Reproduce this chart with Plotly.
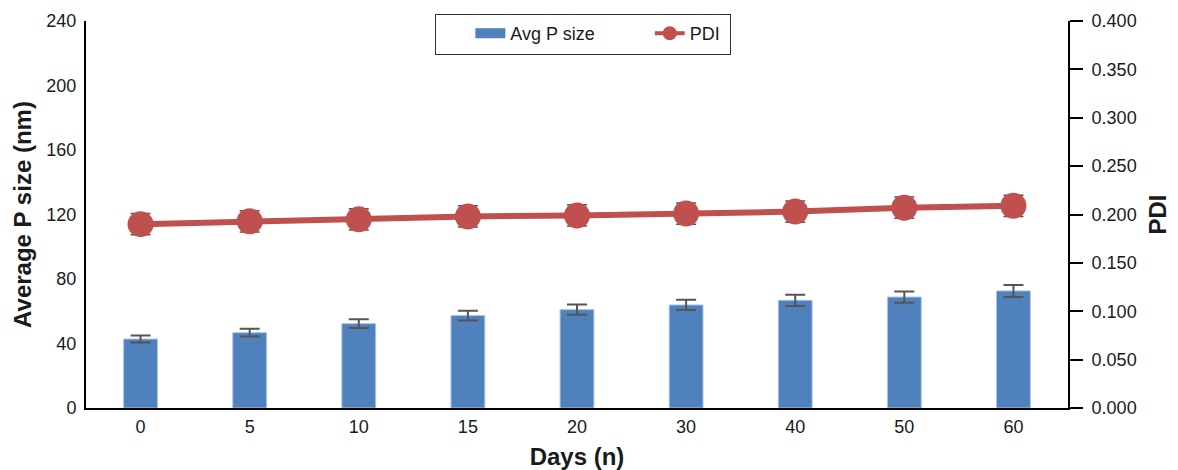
import plotly.graph_objects as go

days = ["0", "5", "10", "15", "20", "30", "40", "50", "60"]
avg_size = [42.8, 46.7, 52.3, 57.3, 61.0, 63.9, 66.8, 68.8, 72.6]
avg_size_err = [2.2, 2.4, 2.7, 3.0, 3.2, 3.2, 3.5, 3.5, 3.7]
pdi = [0.190, 0.193, 0.195, 0.198, 0.199, 0.201, 0.203, 0.207, 0.209]
pdi_err = [0.011, 0.011, 0.011, 0.011, 0.011, 0.011, 0.011, 0.011, 0.011]
left_ticks = [0, 40, 80, 120, 160, 200, 240]
right_ticks = [0, 0.05, 0.1, 0.15, 0.2, 0.25, 0.3, 0.35, 0.4]

FONT = "Liberation Sans, Arial, sans-serif"
BLUE = "#4F81BD"
RED = "#C0504D"
NB = "\u00a0"

fig = go.Figure()
fig.add_trace(go.Bar(
    x=days, y=avg_size, name="Avg P size", showlegend=False,
    marker=dict(color=BLUE, line=dict(color="#A9C4E6", width=1)),
    width=0.31,
    error_y=dict(type="data", array=avg_size_err, color="#555555", thickness=2, width=10),
))
fig.add_trace(go.Scatter(
    x=days, y=pdi, name="PDI", yaxis="y2", mode="lines+markers", showlegend=False,
    line=dict(color=RED, width=6),
    marker=dict(color=RED, size=26),
    error_y=dict(type="data", array=pdi_err, color="#555555", thickness=1.5, width=10),
))
# legend-only entries (keys styled like the reference legend)
fig.add_trace(go.Scatter(
    x=[None], y=[None], name="Avg P size" + NB * 10, mode="lines",
    line=dict(color=BLUE, width=10),
))
fig.add_trace(go.Scatter(
    x=[None], y=[None], name="PDI" + NB, mode="lines+markers", yaxis="y2",
    line=dict(color=RED, width=4), marker=dict(color=RED, size=14),
))

fig.update_layout(
    width=1178, height=470,
    margin=dict(l=86, r=110, t=21, b=61.5, autoexpand=False),
    paper_bgcolor="white", plot_bgcolor="white",
    font=dict(family=FONT, size=18, color="#1a1a1a"),
    showlegend=True,
    legend=dict(
        orientation="h", x=0.506, xanchor="center", y=1.018, yanchor="top",
        bordercolor="#333333", borderwidth=1, bgcolor="white",
        font=dict(size=18), title=dict(text=NB * 4, side="left"),
    ),
    xaxis=dict(
        type="category", categoryorder="array", categoryarray=days,
        range=[-0.5, len(days) - 0.5],
        showline=True, linecolor="black", linewidth=2,
        ticks="", showgrid=False, tickfont=dict(size=18), ticklabelstandoff=1,
        title=dict(text="<b>Days (n)</b>", font=dict(size=24), standoff=13),
    ),
    yaxis=dict(
        range=[0, 240], tickvals=left_ticks, showline=True, linecolor="black",
        linewidth=2, ticks="", showgrid=False, zeroline=False,
        ticklabelstandoff=4, tickfont=dict(size=18),
        title=dict(text="<b>Average P size (nm)</b>", font=dict(size=24), standoff=8),
    ),
    yaxis2=dict(
        range=[0, 0.4], tickvals=right_ticks, tickformat=".3f", overlaying="y",
        side="right", showline=True, linecolor="black", linewidth=2,
        ticks="outside", ticklen=13, tickwidth=2, tickcolor="black",
        ticklabelstandoff=5,
        showgrid=False, zeroline=False, tickfont=dict(size=18),
        title=dict(text="<b>PDI</b>", font=dict(size=24), standoff=14),
    ),
)

fig.write_html(
    "out.html",
    config={"displayModeBar": False},
    post_script="document.body.style.margin='0';document.body.style.overflow='hidden';",
)
